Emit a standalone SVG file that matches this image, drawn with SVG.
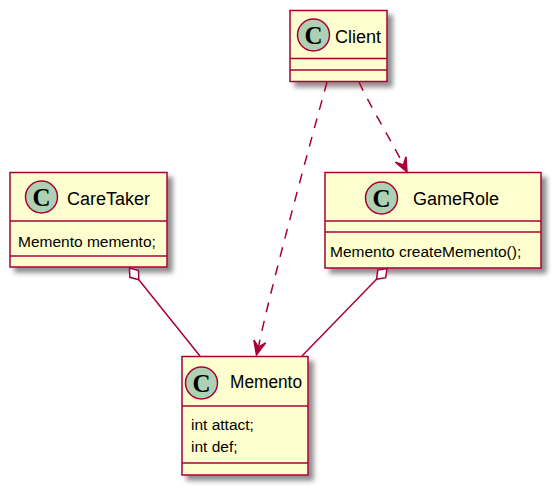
<svg xmlns="http://www.w3.org/2000/svg" width="560" height="493" viewBox="0 0 560 493">
<defs>
<filter id="sh" x="-20%" y="-20%" width="150%" height="150%">
<feGaussianBlur in="SourceAlpha" stdDeviation="2.5"/>
<feOffset dx="5" dy="5" result="b"/>
<feComponentTransfer><feFuncA type="linear" slope="0.45"/></feComponentTransfer>
<feMerge><feMergeNode/><feMergeNode in="SourceGraphic"/></feMerge>
</filter>
</defs>
<style>
.box{fill:#FEFECE;stroke:#A80036;stroke-width:1.5}
.sep{stroke:#A80036;stroke-width:1.5}
.circ{fill:#ADD1B2;stroke:#A80036;stroke-width:1.5}
.cl{font-family:"Liberation Serif",serif;font-weight:bold;font-size:25px;fill:#000;text-anchor:middle}
.nm{font-family:"Liberation Sans",Arial,sans-serif;font-size:18px;fill:#000}
.at{font-family:"Liberation Sans",Arial,sans-serif;font-size:15.5px;fill:#000}
.ln{fill:none;stroke:#A80036;stroke-width:1.5}
.dash{stroke-dasharray:10,9}
.ah{fill:#A80036;stroke:#A80036;stroke-width:1.5}
.dia{fill:#FFFFFF;stroke:#A80036;stroke-width:1.5}
</style>
<g id="Client">
<rect class="box" x="290" y="10.5" width="97" height="71" filter="url(#sh)"/>
<line class="sep" x1="290" y1="58.5" x2="387" y2="58.5"/>
<line class="sep" x1="290" y1="70" x2="387" y2="70"/>
<circle class="circ" cx="313.5" cy="35" r="16"/>
<text class="cl" x="313.5" y="44">C</text>
<text class="nm" x="335" y="43">Client</text>
</g>
<g id="CareTaker">
<rect class="box" x="10" y="172.5" width="157" height="94.5" filter="url(#sh)"/>
<line class="sep" x1="10" y1="221" x2="167" y2="221"/>
<line class="sep" x1="10" y1="256" x2="167" y2="256"/>
<circle class="circ" cx="41.5" cy="197" r="16"/>
<text class="cl" x="41.5" y="206">C</text>
<text class="nm" x="67" y="205">CareTaker</text>
<text class="at" x="18" y="247">Memento memento;</text>
</g>
<g id="GameRole">
<rect class="box" x="325" y="172.5" width="216" height="95.5" filter="url(#sh)"/>
<line class="sep" x1="325" y1="221" x2="541" y2="221"/>
<line class="sep" x1="325" y1="232" x2="541" y2="232"/>
<circle class="circ" cx="381.5" cy="198" r="16"/>
<text class="cl" x="381.5" y="207">C</text>
<text class="nm" x="413" y="205">GameRole</text>
<text class="at" x="330" y="257">Memento createMemento();</text>
</g>
<g id="Memento">
<rect class="box" x="182" y="356.5" width="126" height="118.5" filter="url(#sh)"/>
<line class="sep" x1="182" y1="406" x2="308" y2="406"/>
<line class="sep" x1="182" y1="463" x2="308" y2="463"/>
<circle class="circ" cx="201.5" cy="383" r="16"/>
<text class="cl" x="201.5" y="392">C</text>
<text class="nm" x="230" y="388" textLength="72" lengthAdjust="spacingAndGlyphs">Memento</text>
<text class="at" x="191" y="430">int attact;</text>
<text class="at" x="191" y="452">int def;</text>
</g>
<g id="connectors">
<path class="ln dash" d="M327,82 C311,140 270,290 258.4,347.2"/>
<polygon class="ah" points="256.5,355 253.9,340 258.4,347.2 265.6,342.8"/>
<path class="ln dash" d="M359,82 C370,106 390,138 403.4,164.9"/>
<polygon class="ah" points="407,172 395.4,162.2 403.4,164.9 406,156.8"/>
<path class="ln" d="M138.8,279.8 L200,356"/>
<polygon class="dia" points="129.5,268 129.8,277.3 138.8,279.8 138.5,270.5"/>
<path class="ln" d="M376.5,279.3 L302,356"/>
<polygon class="dia" points="387,268.5 377.8,270.1 376.5,279.3 385.7,277.7"/>
</g>
</svg>
